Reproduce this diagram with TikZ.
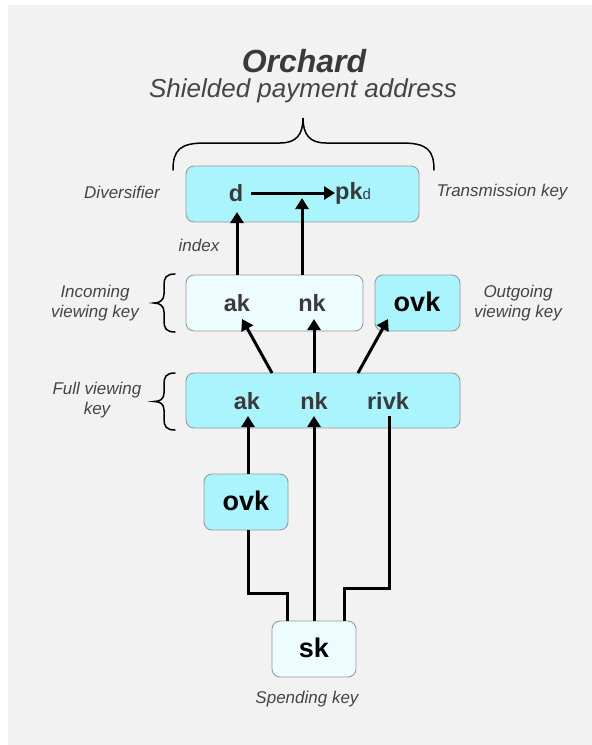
\documentclass[tikz,border=0pt]{standalone}
\usepackage{fontspec}
\setmainfont{Liberation Sans}
\usetikzlibrary{arrows.meta}
\definecolor{bgcol}{HTML}{F2F2F2}
\definecolor{cyanfill}{HTML}{AAF4FD}
\definecolor{lightfill}{HTML}{ECFCFF}
\definecolor{boxline}{HTML}{9A9A9A}
\definecolor{keytext}{HTML}{3A3A3A}
\definecolor{labeltext}{HTML}{454545}
\tikzset{
  keybox/.style={draw=boxline, line width=0.9pt, rounded corners=8pt, inner sep=0pt},
  cyanbox/.style={keybox, fill=cyanfill},
  lightbox/.style={keybox, fill=lightfill},
  keytxt/.style={inner sep=0pt, text=keytext, font=\fontsize{23.5}{25}\selectfont\bfseries},
  darktxt/.style={inner sep=0pt, text=black, font=\fontsize{27}{29}\selectfont\bfseries},
  lbl/.style={inner sep=0pt, text=labeltext, align=center, font=\fontsize{17}{20}\selectfont\itshape},
  conn/.style={line width=3pt, black},
  arr/.style={conn, -{Triangle[length=11pt,width=13pt]}},
  bracestyle/.style={line width=1.5pt, black, line cap=round}
}
\begin{document}
\begin{tikzpicture}[x=1pt,y=-1pt]
\useasboundingbox (0,0) rectangle (592,745);
\fill[white] (0,0) rectangle (592,745);
\fill[bgcol] (8,5) rectangle (592,745);

% titles
\node[inner sep=0pt, text=keytext, font=\fontsize{32}{34}\selectfont\bfseries\itshape] (title) at (304,61) {Orchard};
\node[inner sep=0pt, text=labeltext, font=\fontsize{26}{28}\selectfont\itshape] (subtitle) at (303,91) {Shielded payment address};

% boxes
\node[cyanbox, minimum width=233pt, minimum height=56pt] (addr) at (302.5,194) {};
\node[lightbox, minimum width=177pt, minimum height=56pt] (ivk) at (274.5,303) {};
\node[cyanbox, minimum width=85pt, minimum height=56pt] (ovkbox) at (417.5,303) {};
\node[cyanbox, minimum width=274pt, minimum height=55pt] (fvk) at (323,400.5) {};
\node[cyanbox, minimum width=84pt, minimum height=56pt] (ovkl) at (246,502) {};
\node[lightbox, minimum width=84pt, minimum height=56pt] (sk) at (314,649) {};

% texts inside boxes
\node[keytxt] (d) at (236,193) {d};
\node[keytxt, anchor=west] (pk) at (335,193) {pk{\fontsize{15}{15}\selectfont\mdseries d}};
\node[keytxt] (ivkak) at (237,303) {ak};
\node[keytxt] (ivknk) at (312,303) {nk};
\node[darktxt] (ovktop) at (417,302) {ovk};
\node[keytxt] (fvkak) at (247,401) {ak};
\node[keytxt] (fvknk) at (314,401) {nk};
\node[keytxt] (fvkrivk) at (388,401) {rivk};
\node[darktxt] (ovklow) at (246,501) {ovk};
\node[darktxt] (sktxt) at (314,648) {sk};

% labels
\node[lbl] (ldiv) at (122,192) {Diversifier};
\node[lbl] (ltrans) at (502,192) {Transmission key};
\node[lbl] (lindex) at (199,245) {index};
\node[lbl] (livk) at (95,303) {Incoming\\viewing key};
\node[lbl] (lovk) at (518,303) {Outgoing\\viewing key};
\node[lbl] (lfvk) at (97,400) {Full viewing\\key};
\node[lbl] (lsk) at (307,699) {Spending key};

% braces
\draw[bracestyle] (173,170) .. controls (173,150) and (180,143) .. (205,143) -- (280,143)
  .. controls (296,143) and (303,135) .. (303,118)
  .. controls (303,135) and (310,143) .. (326,143) -- (402,143)
  .. controls (427,143) and (434,150) .. (434,170);
\draw[bracestyle] (175,274) .. controls (166,274) and (164,278) .. (164,285) -- (164,294)
  .. controls (164,300) and (160,303) .. (154,303)
  .. controls (160,303) and (164,306) .. (164,312) -- (164,321)
  .. controls (164,328) and (166,332) .. (175,332);
\draw[bracestyle] (175,373) .. controls (166,373) and (164,377) .. (164,384) -- (164,393)
  .. controls (164,399) and (160,401.5) .. (154,401.5)
  .. controls (160,401.5) and (164,404) .. (164,410) -- (164,419)
  .. controls (164,426) and (166,430) .. (175,430);

% connector coordinates
\coordinate (dstart) at (251,193);
\coordinate (dtip) at (237,212);
\coordinate (mtip) at (302,198);
\coordinate (ivkakfoot) at (237,275);
\coordinate (ivknkfoot) at (302,275);
\coordinate (akfrom) at (272,373);
\coordinate (nkfrom) at (314,373);
\coordinate (ovkfrom) at (358,373);
\coordinate (aktip) at (242,319);
\coordinate (nktip) at (314,319);
\coordinate (ovktip) at (388,319);
\coordinate (fakt) at (248,416);
\coordinate (fnkt) at (314,416);
\coordinate (frvt) at (389,416);
\coordinate (skleft) at (287,621);
\coordinate (skright) at (344,621);
\coordinate (ovklbot) at (248,530);
\coordinate (ovkltop) at (248,474);
\coordinate (bendl) at (248,593);
\coordinate (bendr) at (389,588);

% arrows
\draw[arr] (dstart) -- (pk.west);
\draw[arr] (ivkakfoot) -- (dtip);
\draw[arr] (ivknkfoot) -- (mtip);
\draw[arr] (akfrom) -- (aktip);
\draw[arr] (nkfrom) -- (nktip);
\draw[arr] (ovkfrom) -- (ovktip);
\draw[conn] (skleft) |- (bendl) -- (ovklbot);
\draw[arr] (ovkltop) -- (fakt);
\draw[arr] (sk.north) -- (fnkt);
\draw[conn] (skright) |- (bendr) -- (frvt);
\end{tikzpicture}
\end{document}
